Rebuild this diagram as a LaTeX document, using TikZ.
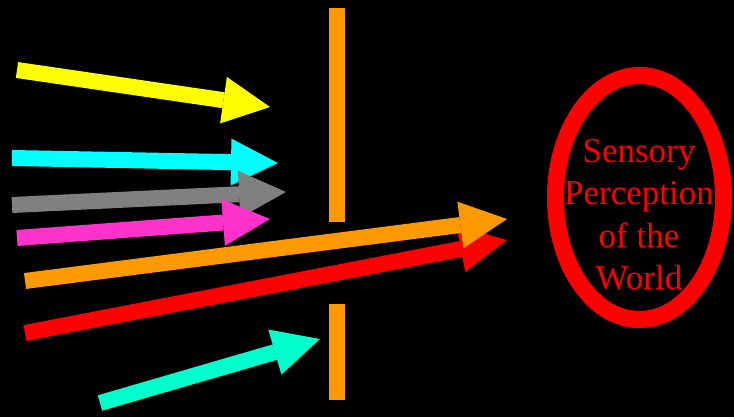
\documentclass[tikz,border=0pt]{standalone}
\usepackage{fontspec}
\setmainfont{Liberation Serif}
\usetikzlibrary{arrows.meta,shapes.geometric}
\definecolor{cYellow}{HTML}{FFFF00}
\definecolor{cCyan}{HTML}{00FFFF}
\definecolor{cGray}{HTML}{808080}
\definecolor{cMagenta}{HTML}{FF33CC}
\definecolor{cOrange}{HTML}{FF9900}
\definecolor{cRed}{HTML}{FF0000}
\definecolor{cAqua}{HTML}{00FFCC}
\tikzset{
  ray/.style={line width=16pt, -{Triangle[length=47pt,width=47pt,line width=0pt]}},
  bar/.style={fill=cOrange},
}
\begin{document}
\begin{tikzpicture}[x=1pt,y=-1pt]
\fill[black] (0,0) rectangle (734,417);
\useasboundingbox (0,0) rectangle (734,417);
% slit bars
\fill[bar] (329,8) rectangle (345,222);
\fill[bar] (329,304) rectangle (345,400);
% ray tails and tips
\coordinate (y0) at (17,70);   \coordinate (y1) at (270,107);
\coordinate (c0) at (12,158);  \coordinate (c1) at (278,163);
\coordinate (g0) at (12,205);  \coordinate (g1) at (286,192);
\coordinate (m0) at (17,238);  \coordinate (m1) at (270,219);
\coordinate (o0) at (25,281);  \coordinate (o1) at (507,219);
\coordinate (r0) at (25,333);  \coordinate (r1) at (507,240);
\coordinate (a0) at (100,403); \coordinate (a1) at (320,339);
\draw[ray,cYellow] (y0) -- (y1);
\draw[ray,cCyan] (c0) -- (c1);
\draw[ray,cGray] (g0) -- (g1);
\draw[ray,cMagenta] (m0) -- (m1);
\draw[ray,cRed] (r0) -- (r1);
\draw[ray,cOrange] (o0) -- (o1);
\draw[ray,cAqua] (a0) -- (a1);
% perception
\node[ellipse, draw=cRed, line width=17pt, minimum width=168pt, minimum height=244pt, inner sep=0pt] (world) at (639.5,197.5) {};
\node[text=cRed, align=center, inner sep=0pt, font=\fontsize{35}{42.5}\selectfont] (label) at (639,214.5) {Sensory\\Perception\\of the\\World};
\end{tikzpicture}
\end{document}
